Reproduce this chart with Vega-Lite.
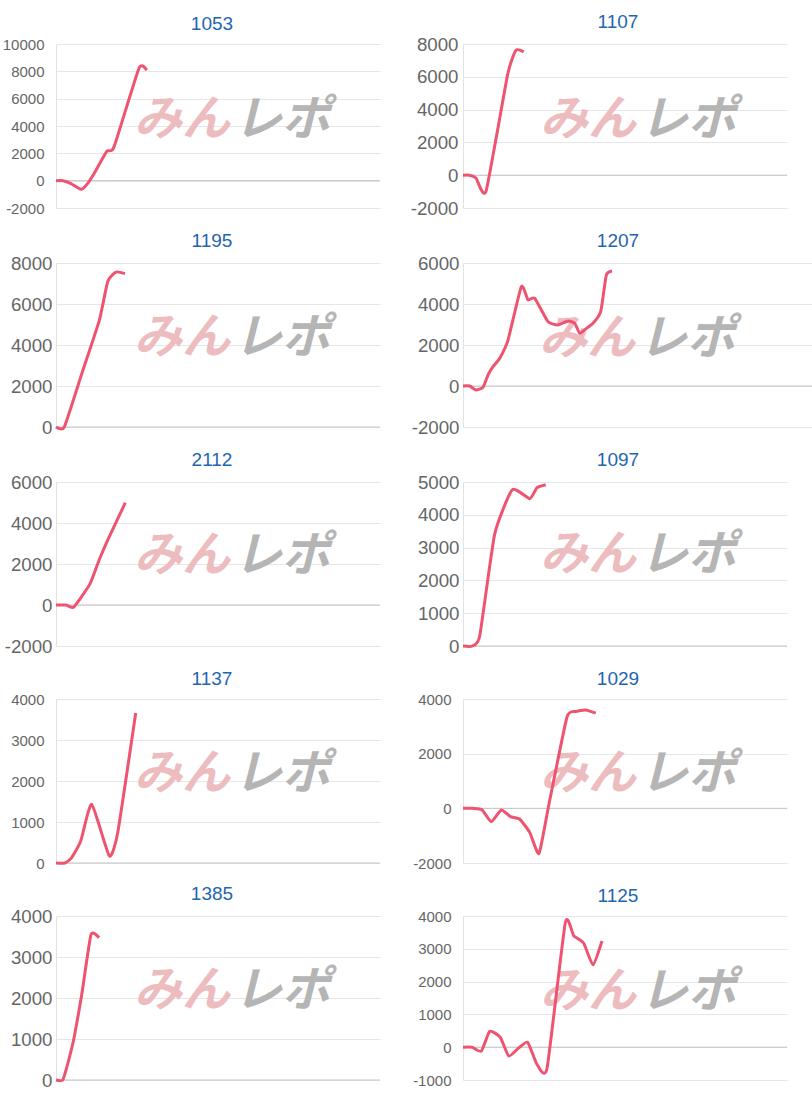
{
  "$schema": "https://vega.github.io/schema/vega-lite/v6.json",
  "background": "white",
  "padding": {"left": 0, "top": 13, "right": 0, "bottom": 0},
  "autosize": {"type": "pad"},
  "config": {
    "view": {"stroke": null},
    "font": "Liberation Sans",
    "title": {"font": "Liberation Sans", "fontSize": 19, "fontWeight": "normal", "color": "#1f66b0", "anchor": "middle", "offset": 3},
    "axis": {"ticks": false, "grid": true, "labelOverlap": false, "labelColor": "#666666", "labelFont": "Liberation Sans", "domainColor": "#e2e2e2", "domainWidth": 1, "gridWidth": 1, "gridColor": "#e6e6e6", "title": null},
    "line": {"color": "#ee5470", "strokeWidth": 3, "interpolate": "cardinal", "tension": 0.5},
    "rule": {"color": "#c4c4c4", "strokeWidth": 1},
    "text": {"font": "Noto Sans CJK JP", "fontWeight": "bold", "fontStyle": "italic", "fontSize": 48, "baseline": "middle"}
  },
  "columns": 2,
  "spacing": {"row": 14, "column": 25},
  "concat": [
    {
      "title": {"text": "1053", "dx": -6},
      "width": 324, "height": 164,
      "layer": [
        {"data": {"values": [{"z": 0}]}, "mark": {"type": "rule"},
         "encoding": {"y": {"datum": 0, "type": "quantitative", "scale": {"domain": [-2000, 10000], "nice": false}}}},
        {"data": {"values": [{"t": "みん"}]}, "mark": {"type": "text", "align": "right", "color": "#ecbcbf", "dx": -2},
         "encoding": {"text": {"field": "t"}, "x": {"datum": 4400, "type": "quantitative", "scale": {"domain": [0, 8100], "nice": false}}, "y": {"datum": 4400, "type": "quantitative", "scale": {"domain": [-2000, 10000], "nice": false}}}},
        {"data": {"values": [{"t": "レポ"}]}, "mark": {"type": "text", "align": "left", "color": "#b5b5b5", "dx": 2},
         "encoding": {"text": {"field": "t"}, "x": {"datum": 4400, "type": "quantitative", "scale": {"domain": [0, 8100], "nice": false}}, "y": {"datum": 4400, "type": "quantitative", "scale": {"domain": [-2000, 10000], "nice": false}}}},
        {"data": {"values": [
          {"g": 0, "v": 0}, {"g": 175, "v": 0}, {"g": 375, "v": -220}, {"g": 625, "v": -630}, {"g": 768, "v": -290},
          {"g": 975, "v": 640}, {"g": 1268, "v": 2150}, {"g": 1450, "v": 2470}, {"g": 2075, "v": 8240}, {"g": 2268, "v": 8080}]},
         "mark": {"type": "line"},
         "encoding": {
           "x": {"field": "g", "type": "quantitative", "scale": {"domain": [0, 8100], "nice": false}, "axis": null},
           "y": {"field": "v", "type": "quantitative", "scale": {"domain": [-2000, 10000], "nice": false},
                 "axis": {"values": [-2000, 0, 2000, 4000, 6000, 8000, 10000], "tickCount": 20, "labelOverlap": false, "labelExpr": "datum.value + ''", "labelFontSize": 15, "labelPadding": 12, "minExtent": 56, "maxExtent": 56}}}}
      ]
    },
    {
      "title": {"text": "1107", "dx": -7},
      "width": 324, "height": 164,
      "layer": [
        {"data": {"values": [{"z": 0}]}, "mark": {"type": "rule"},
         "encoding": {"y": {"datum": 0, "type": "quantitative", "scale": {"domain": [-2000, 8000], "nice": false}}}},
        {"data": {"values": [{"t": "みん"}]}, "mark": {"type": "text", "align": "right", "color": "#ecbcbf", "dx": -2},
         "encoding": {"text": {"field": "t"}, "x": {"datum": 4375, "type": "quantitative", "scale": {"domain": [0, 8100], "nice": false}}, "y": {"datum": 3330, "type": "quantitative", "scale": {"domain": [-2000, 8000], "nice": false}}}},
        {"data": {"values": [{"t": "レポ"}]}, "mark": {"type": "text", "align": "left", "color": "#b5b5b5", "dx": 2},
         "encoding": {"text": {"field": "t"}, "x": {"datum": 4375, "type": "quantitative", "scale": {"domain": [0, 8100], "nice": false}}, "y": {"datum": 3330, "type": "quantitative", "scale": {"domain": [-2000, 8000], "nice": false}}}},
        {"data": {"values": [
          {"g": 0, "v": 0}, {"g": 158, "v": 0}, {"g": 325, "v": -170}, {"g": 575, "v": -980},
          {"g": 1118, "v": 6160}, {"g": 1325, "v": 7620}, {"g": 1518, "v": 7520}]},
         "mark": {"type": "line"},
         "encoding": {
           "x": {"field": "g", "type": "quantitative", "scale": {"domain": [0, 8100], "nice": false}, "axis": null},
           "y": {"field": "v", "type": "quantitative", "scale": {"domain": [-2000, 8000], "nice": false},
                 "axis": {"values": [-2000, 0, 2000, 4000, 6000, 8000], "tickCount": 20, "labelOverlap": false, "labelExpr": "datum.value + ''", "labelFontSize": 18.7, "labelPadding": 5, "minExtent": 57, "maxExtent": 57}}}}
      ]
    },
    {
      "title": {"text": "1195", "dx": -6},
      "width": 324, "height": 164,
      "layer": [
        {"data": {"values": [{"z": 0}]}, "mark": {"type": "rule"},
         "encoding": {"y": {"datum": 0, "type": "quantitative", "scale": {"domain": [0, 8000], "nice": false}}}},
        {"data": {"values": [{"t": "みん"}]}, "mark": {"type": "text", "align": "right", "color": "#ecbcbf", "dx": -2},
         "encoding": {"text": {"field": "t"}, "x": {"datum": 4400, "type": "quantitative", "scale": {"domain": [0, 8100], "nice": false}}, "y": {"datum": 4270, "type": "quantitative", "scale": {"domain": [0, 8000], "nice": false}}}},
        {"data": {"values": [{"t": "レポ"}]}, "mark": {"type": "text", "align": "left", "color": "#b5b5b5", "dx": 2},
         "encoding": {"text": {"field": "t"}, "x": {"datum": 4400, "type": "quantitative", "scale": {"domain": [0, 8100], "nice": false}}, "y": {"datum": 4270, "type": "quantitative", "scale": {"domain": [0, 8000], "nice": false}}}},
        {"data": {"values": [
          {"g": 0, "v": 0}, {"g": 208, "v": 0}, {"g": 643, "v": 2590}, {"g": 1083, "v": 5200},
          {"g": 1293, "v": 7100}, {"g": 1500, "v": 7560}, {"g": 1725, "v": 7480}]},
         "mark": {"type": "line"},
         "encoding": {
           "x": {"field": "g", "type": "quantitative", "scale": {"domain": [0, 8100], "nice": false}, "axis": null},
           "y": {"field": "v", "type": "quantitative", "scale": {"domain": [0, 8000], "nice": false},
                 "axis": {"values": [0, 2000, 4000, 6000, 8000], "tickCount": 20, "labelOverlap": false, "labelExpr": "datum.value + ''", "labelFontSize": 18.7, "labelPadding": 4, "minExtent": 56, "maxExtent": 56}}}}
      ]
    },
    {
      "title": {"text": "1207", "dx": -20},
      "width": 350, "height": 164,
      "layer": [
        {"data": {"values": [{"z": 0}]}, "mark": {"type": "rule"},
         "encoding": {"y": {"datum": 0, "type": "quantitative", "scale": {"domain": [-2000, 6000], "nice": false}}}},
        {"data": {"values": [{"t": "みん"}]}, "mark": {"type": "text", "align": "right", "color": "#ecbcbf", "dx": -2},
         "encoding": {"text": {"field": "t"}, "x": {"datum": 4350, "type": "quantitative", "scale": {"domain": [0, 8750], "nice": false}}, "y": {"datum": 2220, "type": "quantitative", "scale": {"domain": [-2000, 6000], "nice": false}}}},
        {"data": {"values": [{"t": "レポ"}]}, "mark": {"type": "text", "align": "left", "color": "#b5b5b5", "dx": 2},
         "encoding": {"text": {"field": "t"}, "x": {"datum": 4350, "type": "quantitative", "scale": {"domain": [0, 8750], "nice": false}}, "y": {"datum": 2220, "type": "quantitative", "scale": {"domain": [-2000, 6000], "nice": false}}}},
        {"data": {"values": [
          {"g": 0, "v": 0}, {"g": 168, "v": 0}, {"g": 318, "v": -195}, {"g": 500, "v": -65}, {"g": 625, "v": 537},
          {"g": 750, "v": 946}, {"g": 918, "v": 1350}, {"g": 1125, "v": 2240}, {"g": 1458, "v": 4850}, {"g": 1625, "v": 4200},
          {"g": 1793, "v": 4280}, {"g": 2125, "v": 3140}, {"g": 2375, "v": 2980}, {"g": 2625, "v": 3170}, {"g": 2793, "v": 3060},
          {"g": 2918, "v": 2570}, {"g": 3043, "v": 2750}, {"g": 3250, "v": 3060}, {"g": 3443, "v": 3630}, {"g": 3583, "v": 5410}, {"g": 3725, "v": 5610}]},
         "mark": {"type": "line"},
         "encoding": {
           "x": {"field": "g", "type": "quantitative", "scale": {"domain": [0, 8750], "nice": false}, "axis": null},
           "y": {"field": "v", "type": "quantitative", "scale": {"domain": [-2000, 6000], "nice": false},
                 "axis": {"values": [-2000, 0, 2000, 4000, 6000], "tickCount": 20, "labelOverlap": false, "labelExpr": "datum.value + ''", "labelFontSize": 18.7, "labelPadding": 4, "minExtent": 57, "maxExtent": 57}}}}
      ]
    },
    {
      "title": {"text": "2112", "dx": -6},
      "width": 324, "height": 164,
      "layer": [
        {"data": {"values": [{"z": 0}]}, "mark": {"type": "rule"},
         "encoding": {"y": {"datum": 0, "type": "quantitative", "scale": {"domain": [-2000, 6000], "nice": false}}}},
        {"data": {"values": [{"t": "みん"}]}, "mark": {"type": "text", "align": "right", "color": "#ecbcbf", "dx": -2},
         "encoding": {"text": {"field": "t"}, "x": {"datum": 4400, "type": "quantitative", "scale": {"domain": [0, 8100], "nice": false}}, "y": {"datum": 2340, "type": "quantitative", "scale": {"domain": [-2000, 6000], "nice": false}}}},
        {"data": {"values": [{"t": "レポ"}]}, "mark": {"type": "text", "align": "left", "color": "#b5b5b5", "dx": 2},
         "encoding": {"text": {"field": "t"}, "x": {"datum": 4400, "type": "quantitative", "scale": {"domain": [0, 8100], "nice": false}}, "y": {"datum": 2340, "type": "quantitative", "scale": {"domain": [-2000, 6000], "nice": false}}}},
        {"data": {"values": [
          {"g": 0, "v": 0}, {"g": 250, "v": 0}, {"g": 443, "v": -100}, {"g": 850, "v": 1030},
          {"g": 1083, "v": 2220}, {"g": 1318, "v": 3280}, {"g": 1733, "v": 4990}]},
         "mark": {"type": "line"},
         "encoding": {
           "x": {"field": "g", "type": "quantitative", "scale": {"domain": [0, 8100], "nice": false}, "axis": null},
           "y": {"field": "v", "type": "quantitative", "scale": {"domain": [-2000, 6000], "nice": false},
                 "axis": {"values": [-2000, 0, 2000, 4000, 6000], "tickCount": 20, "labelOverlap": false, "labelExpr": "datum.value + ''", "labelFontSize": 18.7, "labelPadding": 4, "minExtent": 56, "maxExtent": 56}}}}
      ]
    },
    {
      "title": {"text": "1097", "dx": -7},
      "width": 324, "height": 164,
      "layer": [
        {"data": {"values": [{"z": 0}]}, "mark": {"type": "rule"},
         "encoding": {"y": {"datum": 0, "type": "quantitative", "scale": {"domain": [0, 5000], "nice": false}}}},
        {"data": {"values": [{"t": "みん"}]}, "mark": {"type": "text", "align": "right", "color": "#ecbcbf", "dx": -2},
         "encoding": {"text": {"field": "t"}, "x": {"datum": 4375, "type": "quantitative", "scale": {"domain": [0, 8100], "nice": false}}, "y": {"datum": 2740, "type": "quantitative", "scale": {"domain": [0, 5000], "nice": false}}}},
        {"data": {"values": [{"t": "レポ"}]}, "mark": {"type": "text", "align": "left", "color": "#b5b5b5", "dx": 2},
         "encoding": {"text": {"field": "t"}, "x": {"datum": 4375, "type": "quantitative", "scale": {"domain": [0, 8100], "nice": false}}, "y": {"datum": 2740, "type": "quantitative", "scale": {"domain": [0, 5000], "nice": false}}}},
        {"data": {"values": [
          {"g": 0, "v": 0}, {"g": 233, "v": 0}, {"g": 418, "v": 306}, {"g": 793, "v": 3418},
          {"g": 1233, "v": 4765}, {"g": 1668, "v": 4490}, {"g": 1850, "v": 4827}, {"g": 2068, "v": 4918}]},
         "mark": {"type": "line"},
         "encoding": {
           "x": {"field": "g", "type": "quantitative", "scale": {"domain": [0, 8100], "nice": false}, "axis": null},
           "y": {"field": "v", "type": "quantitative", "scale": {"domain": [0, 5000], "nice": false},
                 "axis": {"values": [0, 1000, 2000, 3000, 4000, 5000], "tickCount": 20, "labelOverlap": false, "labelExpr": "datum.value + ''", "labelFontSize": 18.7, "labelPadding": 4, "minExtent": 57, "maxExtent": 57}}}}
      ]
    },
    {
      "title": {"text": "1137", "dx": -6},
      "width": 324, "height": 164,
      "layer": [
        {"data": {"values": [{"z": 0}]}, "mark": {"type": "rule"},
         "encoding": {"y": {"datum": 0, "type": "quantitative", "scale": {"domain": [0, 4000], "nice": false}}}},
        {"data": {"values": [{"t": "みん"}]}, "mark": {"type": "text", "align": "right", "color": "#ecbcbf", "dx": -2},
         "encoding": {"text": {"field": "t"}, "x": {"datum": 4400, "type": "quantitative", "scale": {"domain": [0, 8100], "nice": false}}, "y": {"datum": 2140, "type": "quantitative", "scale": {"domain": [0, 4000], "nice": false}}}},
        {"data": {"values": [{"t": "レポ"}]}, "mark": {"type": "text", "align": "left", "color": "#b5b5b5", "dx": 2},
         "encoding": {"text": {"field": "t"}, "x": {"datum": 4400, "type": "quantitative", "scale": {"domain": [0, 8100], "nice": false}}, "y": {"datum": 2140, "type": "quantitative", "scale": {"domain": [0, 4000], "nice": false}}}},
        {"data": {"values": [
          {"g": 0, "v": 0}, {"g": 225, "v": 0}, {"g": 393, "v": 130}, {"g": 618, "v": 535},
          {"g": 893, "v": 1430}, {"g": 1333, "v": 170}, {"g": 1543, "v": 740}, {"g": 1993, "v": 3660}]},
         "mark": {"type": "line"},
         "encoding": {
           "x": {"field": "g", "type": "quantitative", "scale": {"domain": [0, 8100], "nice": false}, "axis": null},
           "y": {"field": "v", "type": "quantitative", "scale": {"domain": [0, 4000], "nice": false},
                 "axis": {"values": [0, 1000, 2000, 3000, 4000], "tickCount": 20, "labelOverlap": false, "labelExpr": "datum.value + ''", "labelFontSize": 15, "labelPadding": 12, "minExtent": 56, "maxExtent": 56}}}}
      ]
    },
    {
      "title": {"text": "1029", "dx": -7},
      "width": 324, "height": 164,
      "layer": [
        {"data": {"values": [{"z": 0}]}, "mark": {"type": "rule"},
         "encoding": {"y": {"datum": 0, "type": "quantitative", "scale": {"domain": [-2000, 4000], "nice": false}}}},
        {"data": {"values": [{"t": "みん"}]}, "mark": {"type": "text", "align": "right", "color": "#ecbcbf", "dx": -2},
         "encoding": {"text": {"field": "t"}, "x": {"datum": 4375, "type": "quantitative", "scale": {"domain": [0, 8100], "nice": false}}, "y": {"datum": 1230, "type": "quantitative", "scale": {"domain": [-2000, 4000], "nice": false}}}},
        {"data": {"values": [{"t": "レポ"}]}, "mark": {"type": "text", "align": "left", "color": "#b5b5b5", "dx": 2},
         "encoding": {"text": {"field": "t"}, "x": {"datum": 4375, "type": "quantitative", "scale": {"domain": [0, 8100], "nice": false}}, "y": {"datum": 1230, "type": "quantitative", "scale": {"domain": [-2000, 4000], "nice": false}}}},
        {"data": {"values": [
          {"g": 0, "v": 0}, {"g": 250, "v": 0}, {"g": 475, "v": -50}, {"g": 708, "v": -490}, {"g": 958, "v": -60},
          {"g": 1183, "v": -305}, {"g": 1418, "v": -400}, {"g": 1668, "v": -880}, {"g": 1900, "v": -1650}, {"g": 2150, "v": 160},
          {"g": 2600, "v": 3340}, {"g": 2833, "v": 3545}, {"g": 3068, "v": 3600}, {"g": 3318, "v": 3480}]},
         "mark": {"type": "line"},
         "encoding": {
           "x": {"field": "g", "type": "quantitative", "scale": {"domain": [0, 8100], "nice": false}, "axis": null},
           "y": {"field": "v", "type": "quantitative", "scale": {"domain": [-2000, 4000], "nice": false},
                 "axis": {"values": [-2000, 0, 2000, 4000], "tickCount": 20, "labelOverlap": false, "labelExpr": "datum.value + ''", "labelFontSize": 15, "labelPadding": 12, "minExtent": 57, "maxExtent": 57}}}}
      ]
    },
    {
      "title": {"text": "1385", "dx": -6},
      "width": 324, "height": 164,
      "layer": [
        {"data": {"values": [{"z": 0}]}, "mark": {"type": "rule"},
         "encoding": {"y": {"datum": 0, "type": "quantitative", "scale": {"domain": [0, 4000], "nice": false}}}},
        {"data": {"values": [{"t": "みん"}]}, "mark": {"type": "text", "align": "right", "color": "#ecbcbf", "dx": -2},
         "encoding": {"text": {"field": "t"}, "x": {"datum": 4400, "type": "quantitative", "scale": {"domain": [0, 8100], "nice": false}}, "y": {"datum": 2140, "type": "quantitative", "scale": {"domain": [0, 4000], "nice": false}}}},
        {"data": {"values": [{"t": "レポ"}]}, "mark": {"type": "text", "align": "left", "color": "#b5b5b5", "dx": 2},
         "encoding": {"text": {"field": "t"}, "x": {"datum": 4400, "type": "quantitative", "scale": {"domain": [0, 8100], "nice": false}}, "y": {"datum": 2140, "type": "quantitative", "scale": {"domain": [0, 4000], "nice": false}}}},
        {"data": {"values": [
          {"g": 0, "v": 0}, {"g": 168, "v": 0}, {"g": 308, "v": 450}, {"g": 458, "v": 1060},
          {"g": 643, "v": 2080}, {"g": 875, "v": 3550}, {"g": 1075, "v": 3470}]},
         "mark": {"type": "line"},
         "encoding": {
           "x": {"field": "g", "type": "quantitative", "scale": {"domain": [0, 8100], "nice": false}, "axis": null},
           "y": {"field": "v", "type": "quantitative", "scale": {"domain": [0, 4000], "nice": false},
                 "axis": {"values": [0, 1000, 2000, 3000, 4000], "tickCount": 20, "labelOverlap": false, "labelExpr": "datum.value + ''", "labelFontSize": 18.7, "labelPadding": 4, "minExtent": 56, "maxExtent": 56}}}}
      ]
    },
    {
      "title": {"text": "1125", "dx": -7},
      "width": 324, "height": 164,
      "layer": [
        {"data": {"values": [{"z": 0}]}, "mark": {"type": "rule"},
         "encoding": {"y": {"datum": 0, "type": "quantitative", "scale": {"domain": [-1000, 4000], "nice": false}}}},
        {"data": {"values": [{"t": "みん"}]}, "mark": {"type": "text", "align": "right", "color": "#ecbcbf", "dx": -2},
         "encoding": {"text": {"field": "t"}, "x": {"datum": 4375, "type": "quantitative", "scale": {"domain": [0, 8100], "nice": false}}, "y": {"datum": 1650, "type": "quantitative", "scale": {"domain": [-1000, 4000], "nice": false}}}},
        {"data": {"values": [{"t": "レポ"}]}, "mark": {"type": "text", "align": "left", "color": "#b5b5b5", "dx": 2},
         "encoding": {"text": {"field": "t"}, "x": {"datum": 4375, "type": "quantitative", "scale": {"domain": [0, 8100], "nice": false}}, "y": {"datum": 1650, "type": "quantitative", "scale": {"domain": [-1000, 4000], "nice": false}}}},
        {"data": {"values": [
          {"g": 0, "v": 0}, {"g": 225, "v": 0}, {"g": 458, "v": -120}, {"g": 668, "v": 485}, {"g": 933, "v": 300},
          {"g": 1143, "v": -270}, {"g": 1393, "v": -20}, {"g": 1618, "v": 150}, {"g": 1850, "v": -525}, {"g": 2100, "v": -650},
          {"g": 2558, "v": 3800}, {"g": 2768, "v": 3400}, {"g": 3018, "v": 3170}, {"g": 3250, "v": 2510}, {"g": 3475, "v": 3240}]},
         "mark": {"type": "line"},
         "encoding": {
           "x": {"field": "g", "type": "quantitative", "scale": {"domain": [0, 8100], "nice": false}, "axis": null},
           "y": {"field": "v", "type": "quantitative", "scale": {"domain": [-1000, 4000], "nice": false},
                 "axis": {"values": [-1000, 0, 1000, 2000, 3000, 4000], "tickCount": 20, "labelOverlap": false, "labelExpr": "datum.value + ''", "labelFontSize": 15, "labelPadding": 12, "minExtent": 57, "maxExtent": 57}}}}
      ]
    }
  ]
}
